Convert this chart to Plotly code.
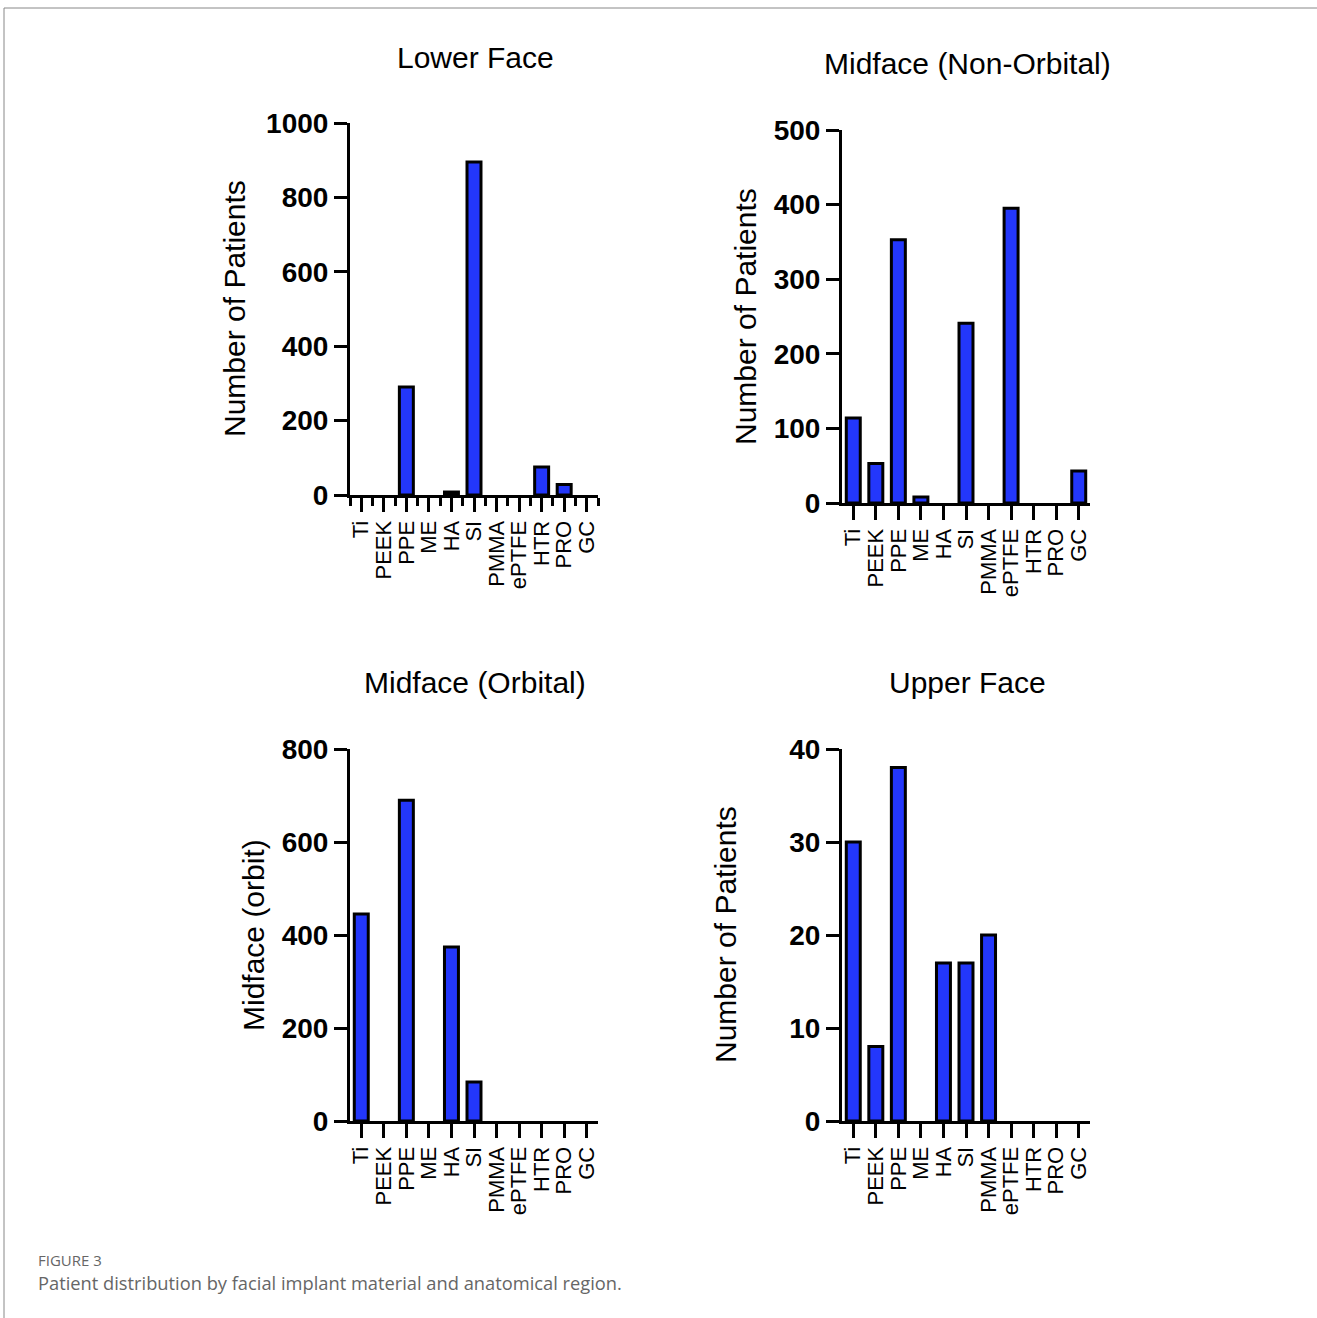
import plotly.graph_objects as go

materials = ["Ti", "PEEK", "PPE", "ME", "HA", "SI", "PMMA", "ePTFE", "HTR", "PRO", "GC"]
lower_face = [0, 0, 290, 0, 8, 895, 0, 0, 75, 28, 0]
midface_non_orbital = [114, 53, 353, 8, 0, 241, 0, 395, 0, 0, 43]
midface_orbital = [445, 0, 690, 0, 374, 84, 0, 0, 0, 0, 0]
upper_face = [30, 8, 38, 0, 17, 17, 20, 0, 0, 0, 0]

panel_titles = ["Lower Face", "Midface (Non-Orbital)", "Midface (Orbital)", "Upper Face"]
y_titles = ["Number of Patients", "Number of Patients", "Midface (orbit)", "Number of Patients"]
y_ticks = [[0, 200, 400, 600, 800, 1000], [0, 100, 200, 300, 400, 500],
           [0, 200, 400, 600, 800], [0, 10, 20, 30, 40]]
y_max = [1000, 500, 800, 40]

W, H = 1317, 1318
def fx(px): return px / W
def fy(py): return 1 - py / H

# pixel boxes: (x0, x1, ytop, ybottom)
boxes = [(350, 598, 123, 495), (842, 1090, 130, 503), (350, 598, 749, 1121), (842, 1090, 749, 1121)]
title_pos = [(475, 58), (967, 63), (475, 682), (967, 682)]
ytitle_pos = [(235, 309), (745, 317), (253, 935), (725, 935)]

FONT = "Liberation Sans, Arial, sans-serif"
BLUE = "#2337fb"
series = [lower_face, midface_non_orbital, midface_orbital, upper_face]
idx = list(range(len(materials)))

fig = go.Figure()
annotations = []
for i, vals in enumerate(series):
    n = "" if i == 0 else str(i + 1)
    fig.add_trace(go.Bar(
        x=idx, y=[v if v else None for v in vals], width=0.62,
        marker=dict(color=BLUE, line=dict(color="black", width=3)),
        xaxis="x" + n, yaxis="y" + n, showlegend=False,
    ))
    x0, x1, yt, yb = boxes[i]
    xa = dict(
        domain=[fx(x0), fx(x1)], range=[-0.5, len(materials) - 0.5], anchor="y" + n,
        tickmode="array", tickvals=idx, ticktext=materials, tickangle=-90,
        ticks="outside", ticklen=14, tickwidth=3, tickcolor="black",
        showline=True, linewidth=3, linecolor="black", showgrid=False, zeroline=False,
        tickfont=dict(family=FONT, size=22, color="black"), fixedrange=True, automargin=False,
    )
    if i == 0:
        xa["minor"] = dict(tickmode="array", tickvals=[k - 0.5 for k in range(len(materials) + 1)],
                           ticks="outside", ticklen=8, tickwidth=3, tickcolor="black")
    ya = dict(
        domain=[fy(yb), fy(yt)], range=[0, y_max[i]], anchor="x" + n,
        tickmode="array", tickvals=y_ticks[i],
        ticks="outside", ticklen=13, tickwidth=3, tickcolor="black",
        showline=True, linewidth=3, linecolor="black", showgrid=False, zeroline=False,
        tickfont=dict(family=FONT, size=28, color="black", weight="bold"), fixedrange=True,
        automargin=False,
    )
    fig.update_layout(**{"xaxis" + n: xa, "yaxis" + n: ya})
    tx, ty = title_pos[i]
    annotations.append(dict(text=panel_titles[i], x=fx(tx), y=fy(ty), xref="paper", yref="paper",
                            showarrow=False, xanchor="center", yanchor="middle",
                            font=dict(family=FONT, size=30, color="black")))
    ax_, ay_ = ytitle_pos[i]
    annotations.append(dict(text=y_titles[i], x=fx(ax_), y=fy(ay_), xref="paper", yref="paper",
                            showarrow=False, xanchor="center", yanchor="middle", textangle=-90,
                            font=dict(family=FONT, size=30, color="black")))

annotations.append(dict(text="FIGURE 3", x=fx(36), y=fy(1260), xref="paper", yref="paper",
                        showarrow=False, xanchor="left", yanchor="middle",
                        font=dict(family="Open Sans, sans-serif", size=15, color="#666666")))
annotations.append(dict(text="Patient distribution by facial implant material and anatomical region.",
                        x=fx(36), y=fy(1282), xref="paper", yref="paper",
                        showarrow=False, xanchor="left", yanchor="middle",
                        font=dict(family="Open Sans, sans-serif", size=18.3, color="#666666")))

shapes = [
    dict(type="line", xref="paper", yref="paper", x0=fx(4), x1=fx(1317), y0=fy(8), y1=fy(8),
         line=dict(color="#888888", width=1)),
    dict(type="line", xref="paper", yref="paper", x0=fx(4), x1=fx(4), y0=fy(8), y1=fy(1318),
         line=dict(color="#888888", width=1)),
]

fig.update_layout(
    width=W, height=H, margin=dict(l=0, r=0, t=0, b=0, pad=0, autoexpand=False),
    paper_bgcolor="white", plot_bgcolor="white",
    annotations=annotations, shapes=shapes, bargap=0.3,
)

fig.write_html("out.html", config={"displayModeBar": False, "responsive": False},
               post_script="document.body.style.margin='0';document.body.style.overflow='hidden';")
